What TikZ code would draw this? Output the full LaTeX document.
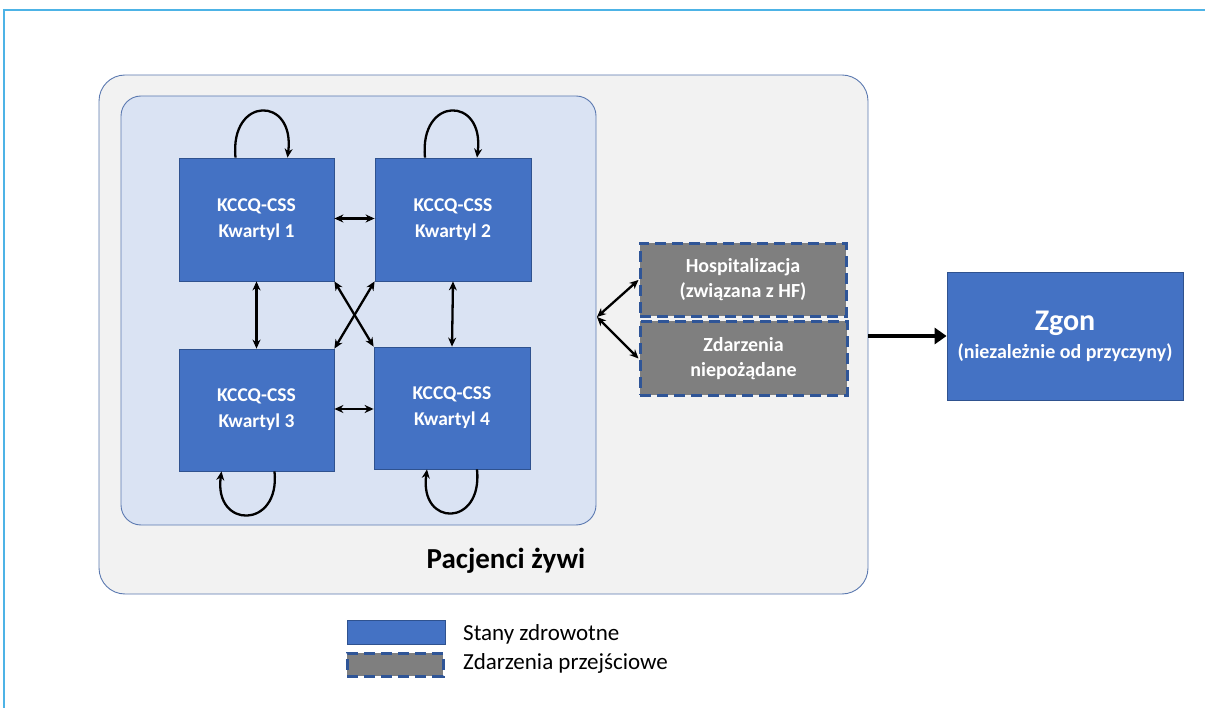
\documentclass[tikz,border=0pt]{standalone}
\usepackage{fontspec}
\setmainfont{Carlito}
\usetikzlibrary{arrows.meta,calc}
\definecolor{boxblue}{HTML}{4472C4}
\definecolor{boxedge}{HTML}{2F528F}
\definecolor{innerbg}{HTML}{DAE3F3}
\definecolor{outerbg}{HTML}{F2F2F2}
\definecolor{outeredge}{HTML}{5B79B0}
\definecolor{evgray}{HTML}{7F7F7F}
\definecolor{dashblue}{HTML}{2F5597}
\definecolor{framecol}{HTML}{4DB3E6}
\tikzset{
  statebox/.style={draw=boxedge, line width=0.8pt, fill=boxblue, text=white, align=center,
    font=\fontsize{19.5}{26}\selectfont\bfseries, inner sep=0pt},
  eventbox/.style={draw=dashblue, line width=3pt, dash pattern=on 11pt off 6pt, fill=evgray,
    text=white, align=center, font=\fontsize{20}{25}\selectfont\bfseries, inner sep=0pt},
  biarrow/.style={line width=2.3pt, {Stealth[length=9pt,width=8pt]}-{Stealth[length=9pt,width=8pt]}},
  looparrow/.style={line width=2.3pt, -{Stealth[length=9pt,width=8pt]}},
  legtext/.style={anchor=west, font=\fontsize{23}{27}\selectfont, inner sep=0pt}
}
\begin{document}
\begin{tikzpicture}[x=1pt,y=-1pt]
\useasboundingbox (0,0) rectangle (1205,708);
% frame
\draw[framecol, line width=1.6pt] (4,708) -- (4,10) -- (1205,10);
% outer alive box
\node[draw=outeredge, line width=0.9pt, fill=outerbg, rounded corners=26pt,
  minimum width=769pt, minimum height=519pt, inner sep=0pt] (alive) at (483.5,334.5) {};
% inner box
\node[draw=outeredge, line width=0.9pt, fill=innerbg, rounded corners=20pt,
  minimum width=475pt, minimum height=429pt, inner sep=0pt] (inner) at (358.5,310.5) {};
\node[font=\fontsize{29}{33}\selectfont\bfseries, inner sep=0pt] (alivelbl) at (506,561) {Pacjenci żywi};
% states
\node[statebox, minimum width=155pt, minimum height=123pt] (k1) at (256.5,219.5) {KCCQ-CSS\\Kwartyl 1};
\node[statebox, minimum width=156pt, minimum height=123pt] (k2) at (453,219.5) {KCCQ-CSS\\Kwartyl 2};
\node[statebox, minimum width=155pt, minimum height=122pt] (k3) at (256.5,410) {KCCQ-CSS\\Kwartyl 3};
\node[statebox, minimum width=156pt, minimum height=122pt] (k4) at (452,408) {KCCQ-CSS\\Kwartyl 4};
% events
\node[eventbox, minimum width=206pt, minimum height=73pt] (hosp) at (743,280) {Hospitalizacja\\(związana z HF)};
\node[eventbox, minimum width=207pt, minimum height=74pt] (ae) at (743.5,358.5) {Zdarzenia\\niepożądane};
% death
\node[statebox, minimum width=236pt, minimum height=128pt, font=\bfseries] (zgon) at (1065,336)
  {{\fontsize{30}{34}\selectfont Zgon}\\[7pt]{\fontsize{20}{24}\selectfont (niezależnie od przyczyny)}};
% transitions between states
\draw[biarrow] ($(k1.east)+(0,-1)$) -- ($(k2.west)+(0,-1)$);
\draw[biarrow] ($(k3.east)+(0,-1)$) -- ($(k4.west)+(0,1)$);
\draw[biarrow] (k1.south) -- (k3.north);
\draw[biarrow] (k2.south) -- (k4.north);
\draw[biarrow] (k1.south east) -- (k4.north west);
\draw[biarrow] (k2.south west) -- (k3.north east);
% self loops
\draw[looparrow] ([xshift=-21pt]k1.north) .. controls +(-6,-62) and +(8,-62) .. ([xshift=31pt]k1.north);
\draw[looparrow] ([xshift=-28pt]k2.north) .. controls +(-6,-62) and +(8,-62) .. ([xshift=24pt]k2.north);
\draw[looparrow] ([xshift=18pt]k3.south) .. controls +(6,58) and +(-8,58) .. ([xshift=-35pt]k3.south);
\draw[looparrow] ([xshift=25pt]k4.south) .. controls +(6,58) and +(-8,58) .. ([xshift=-25pt]k4.south);
% fork to events
\coordinate (fork) at (597,317);
\draw[biarrow] (fork) -- (hosp.west);
\draw[biarrow] (fork) -- (ae.west);
% to death
\draw[line width=4.5pt, -{Triangle[length=12pt,width=16pt]}] (alive.east |- zgon.west) -- (zgon.west);
% legend
\node[statebox, minimum width=98pt, minimum height=24pt] (leg1) at (396,632) {};
\node[eventbox, minimum width=96pt, minimum height=23pt] (leg2) at (395,664.5) {};
\node[legtext] (leg1t) at (463,634) {Stany zdrowotne};
\node[legtext] (leg2t) at (463,663) {Zdarzenia przejściowe};
\end{tikzpicture}
\end{document}
